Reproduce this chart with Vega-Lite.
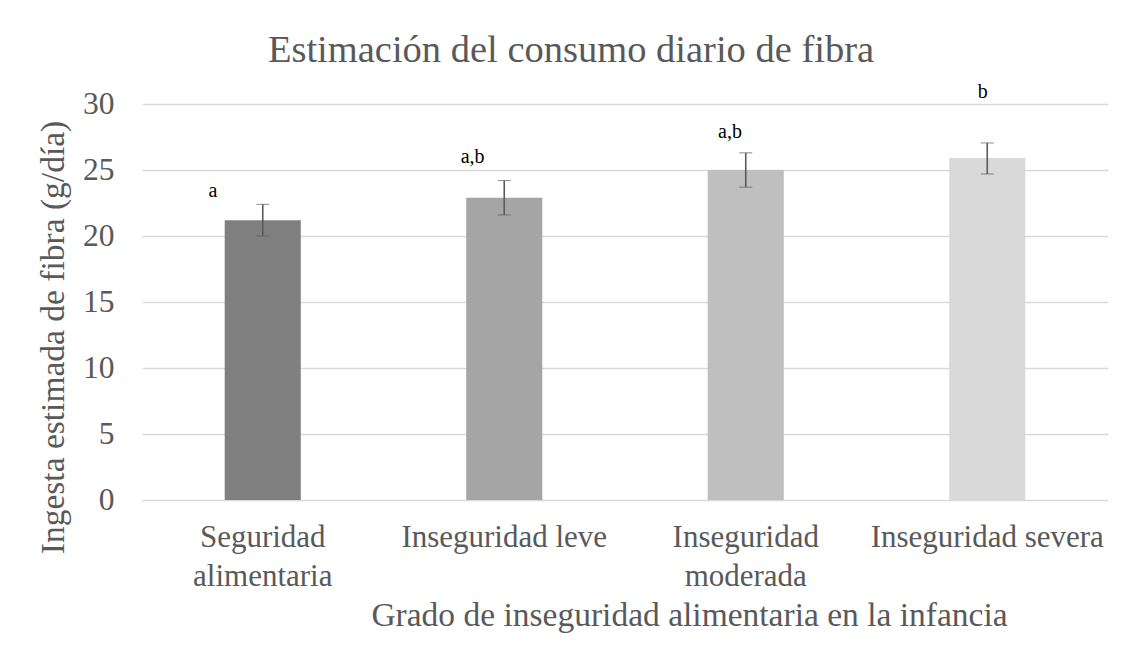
{
  "$schema": "https://vega.github.io/schema/vega-lite/v6.json",
  "autosize": {"type": "none"},
  "width": 966,
  "height": 396,
  "padding": {"left": 142, "top": 104, "right": 22, "bottom": 164},
  "background": "white",
  "config": {
    "font": "Liberation Serif",
    "view": {"stroke": null},
    "axis": {"labelFont": "Liberation Serif", "titleFont": "Liberation Serif", "labelColor": "#595959", "titleColor": "#595959", "titleFontWeight": "normal", "labelLimit": 500}
  },
  "title": {
    "text": "Estimación del consumo diario de fibra",
    "font": "Liberation Serif",
    "fontSize": 38.5,
    "fontWeight": "normal",
    "color": "#595959",
    "anchor": "middle",
    "dx": -54,
    "offset": 12
  },
  "datasets": {
    "bars": [
      {"grupo": "Seguridad alimentaria", "media": 21.2, "inf": 20.0, "sup": 22.4},
      {"grupo": "Inseguridad leve", "media": 22.9, "inf": 21.6, "sup": 24.2},
      {"grupo": "Inseguridad moderada", "media": 25.0, "inf": 23.7, "sup": 26.3},
      {"grupo": "Inseguridad severa", "media": 25.9, "inf": 24.7, "sup": 27.05}
    ],
    "letras": [
      {"pos": 0.294, "y": 22.98, "letra": "a"},
      {"pos": 1.369, "y": 25.55, "letra": "a,b"},
      {"pos": 2.435, "y": 27.45, "letra": "a,b"},
      {"pos": 3.481, "y": 30.43, "letra": "b"}
    ]
  },
  "layer": [
    {
      "data": {"name": "bars"},
      "layer": [
        {
          "mark": {"type": "bar"},
          "encoding": {
            "x": {
              "field": "grupo", "type": "nominal", "sort": null,
              "scale": {"paddingInner": 0.685, "paddingOuter": 0.3425},
              "axis": {
                "title": "Grado de inseguridad alimentaria en la infancia",
                "titleFont": "Liberation Serif",
                "titleFontSize": 33.5,
                "titleX": 547,
                "titleY": 125,
                "titleBaseline": "alphabetic",
                "labelFont": "Liberation Serif",
                "labelFontSize": 31,
                "labelAngle": 0,
                "labelPadding": 22,
                "labelLineHeight": 39,
                "labelLimit": 500,
                "labelExpr": "datum.value == 'Seguridad alimentaria' ? ['Seguridad', 'alimentaria'] : datum.value == 'Inseguridad moderada' ? ['Inseguridad', 'moderada'] : datum.value",
                "ticks": false,
                "domain": false,
                "grid": false
              }
            },
            "y": {
              "field": "media", "type": "quantitative",
              "scale": {"domain": [0, 30]},
              "axis": {
                "title": "Ingesta estimada de fibra (g/día)",
                "titleFont": "Liberation Serif",
                "titleFontSize": 33.5,
                "titleX": -79,
                "titleY": 233,
                "titleBaseline": "alphabetic",
                "titleAngle": -90,
                "labelFont": "Liberation Serif",
                "labelFontSize": 31.5,
                "labelPadding": 28,
                "values": [0, 5, 10, 15, 20, 25, 30],
                "ticks": false,
                "domain": false,
                "grid": true,
                "gridColor": "#d9d9d9",
                "gridWidth": 1.4
              }
            },
            "color": {
              "field": "grupo", "type": "nominal", "sort": null,
              "scale": {"range": ["#808080", "#a5a5a5", "#bfbfbf", "#d9d9d9"]},
              "legend": null
            }
          }
        },
        {
          "mark": {"type": "errorbar", "ticks": {"size": 13, "color": "#5a5a5a", "strokeWidth": 1.6}, "rule": {"color": "#5a5a5a", "strokeWidth": 1.6}},
          "encoding": {
            "x": {"field": "grupo", "type": "nominal", "sort": null},
            "y": {"field": "inf", "type": "quantitative", "title": "Ingesta estimada de fibra (g/día)"},
            "y2": {"field": "sup"}
          }
        }
      ]
    },
    {
      "data": {"name": "letras"},
      "mark": {"type": "text", "font": "Liberation Serif", "fontSize": 20, "color": "#000000", "baseline": "alphabetic", "align": "center"},
      "encoding": {
        "x": {"field": "pos", "type": "quantitative", "scale": {"domain": [0, 4], "nice": false, "zero": false}, "axis": null},
        "y": {"field": "y", "type": "quantitative", "title": "Ingesta estimada de fibra (g/día)"},
        "text": {"field": "letra"}
      }
    }
  ],
  "resolve": {"scale": {"x": "independent"}}
}
